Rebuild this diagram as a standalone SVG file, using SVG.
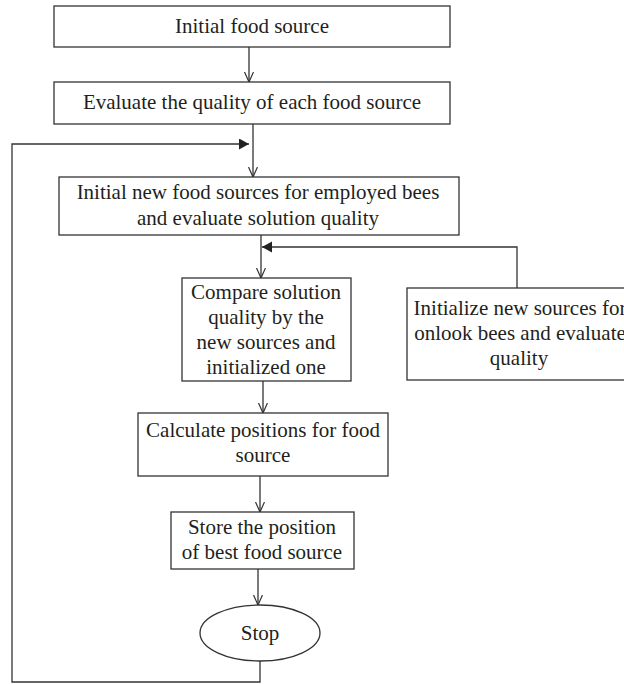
<svg xmlns="http://www.w3.org/2000/svg" width="624" height="684" viewBox="0 0 624 684">
<style>
.box{fill:#fff;stroke:#333;stroke-width:1.3}
.ln{fill:none;stroke:#333;stroke-width:1.3}
.t{font-family:"Liberation Serif","Times New Roman",serif;font-size:21px;fill:#231f20;text-anchor:middle}
</style>
<defs>
<marker id="open" markerWidth="12" markerHeight="12" refX="10" refY="5" orient="auto" markerUnits="userSpaceOnUse">
<path d="M0,0.5 L10,5 L0,9.5" fill="none" stroke="#333" stroke-width="1.2"/>
</marker>
<marker id="fill" markerWidth="12" markerHeight="12" refX="10" refY="5.5" orient="auto" markerUnits="userSpaceOnUse">
<path d="M0,0 L10,5.5 L0,11 Z" fill="#222"/>
</marker>
</defs>
<rect width="624" height="684" fill="#fff"/>
<g id="connectors">
<line class="ln" x1="249" y1="47" x2="249" y2="82" marker-end="url(#open)"/>
<line class="ln" x1="253" y1="124" x2="253" y2="177" marker-end="url(#open)"/>
<line class="ln" x1="261" y1="235" x2="261" y2="278" marker-end="url(#open)"/>
<line class="ln" x1="263" y1="381" x2="263" y2="413" marker-end="url(#open)"/>
<line class="ln" x1="260" y1="476" x2="260" y2="512" marker-end="url(#open)"/>
<line class="ln" x1="258" y1="569" x2="258" y2="605" marker-end="url(#open)"/>
<polyline class="ln" points="517,288 517,247 262,247" marker-end="url(#fill)"/>
<polyline class="ln" points="260,661 260,682 12,682 12,144 249,144" marker-end="url(#fill)"/>
</g>
<g id="n1">
<rect class="box" x="54" y="6" width="396" height="41"/>
<text class="t" x="252" y="33">Initial food source</text>
</g>
<g id="n2">
<rect class="box" x="54" y="82" width="396" height="42"/>
<text class="t" x="252" y="109">Evaluate the quality of each food source</text>
</g>
<g id="n3">
<rect class="box" x="59" y="177" width="400" height="58"/>
<text class="t" x="258" y="199">Initial new food sources for employed bees</text>
<text class="t" x="258" y="225">and evaluate solution quality</text>
</g>
<g id="n4">
<rect class="box" x="182" y="278" width="169" height="103"/>
<text class="t" x="266" y="299">Compare solution</text>
<text class="t" x="266" y="324">quality by the</text>
<text class="t" x="266" y="349">new sources and</text>
<text class="t" x="266" y="374">initialized one</text>
</g>
<g id="n5">
<rect class="box" x="407" y="288" width="240" height="92"/>
<text class="t" x="520" y="315">Initialize new sources for</text>
<text class="t" x="520" y="340">onlook bees and evaluate</text>
<text class="t" x="519" y="365">quality</text>
</g>
<g id="n6">
<rect class="box" x="138" y="413" width="250" height="63"/>
<text class="t" x="263" y="437">Calculate positions for food</text>
<text class="t" x="263" y="462">source</text>
</g>
<g id="n7">
<rect class="box" x="171" y="512" width="183" height="57"/>
<text class="t" x="262" y="534">Store the position</text>
<text class="t" x="262" y="559">of best food source</text>
</g>
<g id="n8">
<ellipse class="box" cx="260" cy="633" rx="60" ry="28"/>
<text class="t" x="260" y="640">Stop</text>
</g>
</svg>
